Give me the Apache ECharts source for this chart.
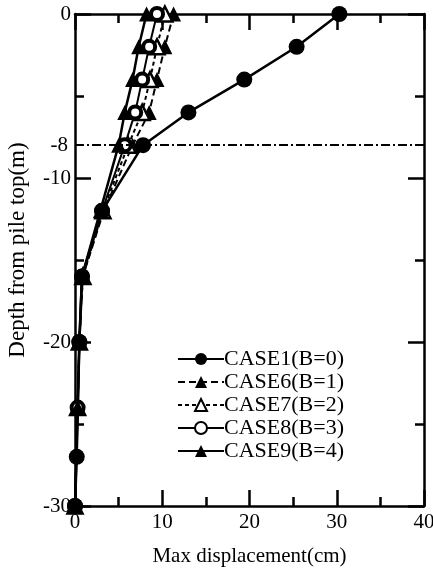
<!DOCTYPE html>
<html>
<head>
<meta charset="utf-8">
<script src="https://cdn.jsdelivr.net/npm/echarts@6/dist/echarts.min.js"></script>
<style>
  html, body { margin: 0; padding: 0; background: #fff; }
  #main { width: 433px; height: 568px; }
</style>
</head>
<body>
<div id="main"></div>
<script>
// depth of each measured point (m)
var depthsCase1 = [0, -2, -4, -6, -8, -12, -16, -20, -27, -30];
var depthsOther = [0, -2, -4, -6, -8, -12, -16, -20, -24, -30];

// max displacement (cm)
var case1 = [30.3, 25.4, 19.4, 13.0, 7.8, 3.1, 0.8, 0.5, 0.2, 0];
var case6 = [11.3, 10.3, 9.4, 8.5, 6.6, 3.3, 0.9, 0.5, 0.3, 0];
var case7 = [10.3, 9.4, 8.6, 7.7, 6.1, 3.2, 0.9, 0.5, 0.3, 0];
var case8 = [9.4, 8.5, 7.7, 6.9, 5.7, 3.1, 0.8, 0.5, 0.3, 0];
var case9 = [8.2, 7.3, 6.6, 5.7, 5.0, 2.9, 0.8, 0.5, 0.3, 0];

var names = ['CASE1(B=0)', 'CASE6(B=1)', 'CASE7(B=2)', 'CASE8(B=3)', 'CASE9(B=4)'];
var excavationDepth = -8;

var font = 'Liberation Serif';

function pairs(xs, ys) {
    var out = [];
    for (var i = 0; i < xs.length; i++) out.push([xs[i], ys[i]]);
    return out;
}

function axisCommon(extra) {
    var a = {
        type: 'value',
        axisLine: { show: true, onZero: false, lineStyle: { color: '#000', width: 2.5 } },
        axisTick: { show: true, inside: true, length: 16, lineStyle: { color: '#000', width: 2.5 } },
        minorTick: { show: true, splitNumber: 2, length: 9, lineStyle: { color: '#000', width: 2.5 } },
        splitLine: { show: false },
        axisLabel: { show: false }
    };
    for (var k in extra) a[k] = extra[k];
    return a;
}

var myChart = echarts.init(document.getElementById('main'));

var option = {
    animation: false,
    backgroundColor: '#fff',
    textStyle: { fontFamily: font, color: '#000' },
    grid: { left: 75, right: 9, top: 14, bottom: 62, outerBoundsMode: 'none', containLabel: false },
    legend: {
        data: names,
        orient: 'vertical',
        left: 172,
        top: 343,
        itemWidth: 46,
        itemHeight: 15,
        itemGap: 1,
        textStyle: { fontFamily: font, fontSize: 22, color: '#000', lineHeight: 21, padding: [0, 0, 0, -5] }
    },
    xAxis: [
        axisCommon({
            min: 0, max: 40, interval: 10, position: 'bottom',
            name: 'Max displacement(cm)', nameLocation: 'middle', nameGap: 40,
            nameTextStyle: { fontFamily: font, fontSize: 21, color: '#000' },
            axisLabel: { show: true, fontFamily: font, fontSize: 21, color: '#000', margin: 6 }
        }),
        axisCommon({ min: 0, max: 40, interval: 10, position: 'top' })
    ],
    yAxis: [
        axisCommon({
            min: -30, max: 0, interval: 10, position: 'left',
            name: 'Depth from pile top(m)', nameLocation: 'middle', nameGap: 46,
            nameTextStyle: { fontFamily: font, fontSize: 23, color: '#000', padding: [0, 0, 0, 20] },
            axisLabel: { show: true, fontFamily: font, fontSize: 21, color: '#000', margin: 4 }
        }),
        axisCommon({ min: -30, max: 0, interval: 10, position: 'right' })
    ],
    series: [
        {
            name: names[1], type: 'line', z: 2,
            data: pairs(case6, depthsOther),
            symbol: 'triangle', symbolSize: 15,
            itemStyle: { color: '#000' },
            lineStyle: { color: '#000', width: 2, type: [7, 4] }
        },
        {
            name: names[2], type: 'line', z: 2,
            data: pairs(case7, depthsOther),
            symbol: 'triangle', symbolSize: 15,
            itemStyle: { color: '#fff', borderColor: '#000', borderWidth: 2.5 },
            lineStyle: { color: '#000', width: 2, type: [4, 3] }
        },
        {
            name: names[3], type: 'line', z: 2,
            data: pairs(case8, depthsOther),
            symbol: 'circle', symbolSize: 12,
            itemStyle: { color: '#fff', borderColor: '#000', borderWidth: 4 },
            lineStyle: { color: '#000', width: 2 }
        },
        {
            name: names[4], type: 'line', z: 2,
            data: pairs(case9, depthsOther),
            symbol: 'triangle', symbolSize: 15,
            itemStyle: { color: '#000' },
            lineStyle: { color: '#000', width: 2.5 }
        },
        {
            name: names[0], type: 'line', z: 3,
            data: pairs(case1, depthsCase1),
            symbol: 'circle', symbolSize: 16,
            itemStyle: { color: '#000' },
            lineStyle: { color: '#000', width: 2.5 },
            markLine: {
                silent: true,
                symbol: ['none', 'none'],
                lineStyle: { color: '#000', width: 2, type: [9, 3, 2, 3] },
                label: {
                    show: true, position: 'start', distance: 7,
                    fontFamily: font, fontSize: 21, color: '#000',
                    formatter: String(excavationDepth)
                },
                data: [{ yAxis: excavationDepth }]
            }
        }
    ]
};

myChart.setOption(option);
</script>
</body>
</html>
